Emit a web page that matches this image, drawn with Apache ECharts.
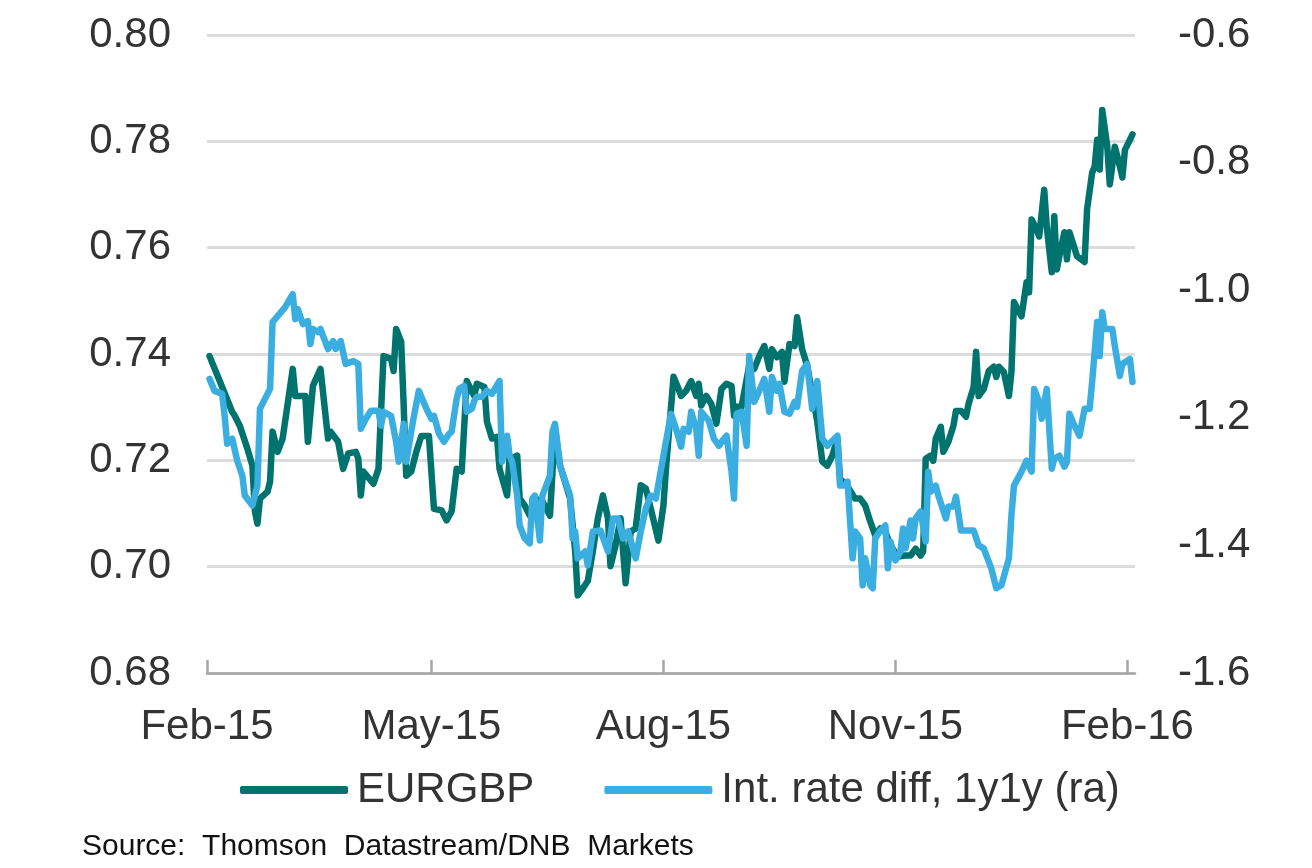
<!DOCTYPE html>
<html>
<head>
<meta charset="utf-8">
<script src="https://cdn.jsdelivr.net/npm/echarts@6/dist/echarts.min.js"></script>
<style>html,body{margin:0;padding:0;background:#fff;}#chart{width:1312px;height:868px;}</style>
</head>
<body>
<div id="chart"></div>
<script>
// x values: days since 2015-02-01
const tickDays = [0, 89, 181, 273, 365];
const tickLabels = ['Feb-15', 'May-15', 'Aug-15', 'Nov-15', 'Feb-16'];

const eurgbpDays = [1,6,10,11,13,16,18,19,20,21,24,25,26,28,30,34,35,39,40,42,45,48,49,52,54,56,59,60,61,62,66,68,70,73,74,75,77,78,79,81,83,85,88,90,93,95,97,99,101,103,104,106,107,110,111,113,115,116,119,120,121,123,124,126,128,130,133,136,138,140,144,146,147,149,151,153,155,157,159,160,162,164,166,168,170,172,174,176,179,181,182,185,187,188,190,192,194,195,196,198,200,202,204,206,208,209,210,212,215,217,219,221,223,224,226,228,229,231,233,234,236,238,240,242,244,246,248,250,251,254,257,259,261,263,265,267,269,271,274,277,279,281,283,284,285,287,288,289,291,292,294,296,297,299,301,302,304,305,306,308,310,312,313,314,316,318,319,320,322,323,325,326,327,329,330,332,333,335,336,337,338,340,341,342,345,348,349,351,352,353,354,355,357,358,360,362,363,364,366,367];
const eurgbpValues = [0.7396,0.7338,0.7291,0.7284,0.7265,0.7222,0.7190,0.7104,0.7081,0.7128,0.7141,0.7160,0.7254,0.7216,0.7241,0.7372,0.7321,0.7321,0.7235,0.7340,0.7372,0.7241,0.7254,0.7235,0.7184,0.7213,0.7216,0.7203,0.7134,0.7179,0.7156,0.7184,0.7396,0.7391,0.7368,0.7447,0.7423,0.7303,0.7171,0.7179,0.7216,0.7246,0.7246,0.7109,0.7106,0.7087,0.7104,0.7184,0.7179,0.7349,0.7340,0.7321,0.7344,0.7338,0.7273,0.7241,0.7244,0.7184,0.7134,0.7209,0.7203,0.7209,0.7128,0.7115,0.7096,0.7128,0.7123,0.7096,0.7259,0.7190,0.7128,0.7029,0.6946,0.6959,0.6973,0.7029,0.7091,0.7134,0.7091,0.7001,0.7040,0.7091,0.6969,0.7066,0.7072,0.7153,0.7147,0.7109,0.7049,0.7115,0.7184,0.7357,0.7334,0.7321,0.7331,0.7349,0.7321,0.7344,0.7303,0.7321,0.7306,0.7269,0.7334,0.7344,0.7340,0.7284,0.7301,0.7301,0.7378,0.7372,0.7396,0.7415,0.7372,0.7409,0.7394,0.7404,0.7348,0.7419,0.7415,0.7469,0.7409,0.7378,0.7325,0.7273,0.7198,0.7190,0.7209,0.7241,0.7166,0.7151,0.7128,0.7128,0.7115,0.7085,0.7059,0.7072,0.7066,0.7040,0.7019,0.7021,0.7021,0.7034,0.7021,0.7029,0.7203,0.7209,0.7199,0.7241,0.7263,0.7216,0.7235,0.7265,0.7293,0.7293,0.7282,0.7306,0.7338,0.7404,0.7321,0.7334,0.7368,0.7376,0.7357,0.7376,0.7366,0.7321,0.7366,0.7498,0.7479,0.7471,0.7535,0.7516,0.7653,0.7634,0.7621,0.7709,0.7640,0.7554,0.7659,0.7559,0.7584,0.7629,0.7578,0.7629,0.7584,0.7573,0.7672,0.7741,0.7753,0.7803,0.7747,0.7859,0.7790,0.7719,0.7790,0.7753,0.7732,0.7784,0.7803,0.7813];

const rateDays = [1,3,6,7,8,10,12,14,15,18,20,21,25,26,28,31,34,35,36,38,40,41,42,44,45,48,50,51,53,55,58,60,61,63,65,68,69,70,73,75,76,78,79,82,84,87,89,90,92,94,96,97,99,100,102,103,105,106,107,109,111,113,116,117,119,120,121,123,124,126,128,129,130,132,133,136,137,138,140,144,145,146,147,150,151,153,156,159,161,163,165,167,170,172,174,176,178,181,184,186,188,189,191,192,194,195,196,199,201,203,205,206,208,209,210,212,214,215,217,219,221,223,224,226,227,229,231,233,234,236,238,240,242,244,246,250,251,253,254,256,257,259,260,261,263,264,265,267,269,270,271,273,275,276,277,279,280,281,283,285,286,287,289,290,293,294,296,297,299,302,304,306,308,311,313,315,318,319,320,323,325,327,328,330,331,333,335,336,338,340,341,342,344,346,348,350,351,353,354,355,356,359,360,362,363,366,367];
const rateValues = [-1.1391,-1.1578,-1.1625,-1.1969,-1.2406,-1.2328,-1.2672,-1.2906,-1.3219,-1.3375,-1.3063,-1.1859,-1.1547,-1.0500,-1.0406,-1.0266,-1.0063,-1.0453,-1.0297,-1.0531,-1.0484,-1.0844,-1.0609,-1.0656,-1.0609,-1.0922,-1.0797,-1.0922,-1.0797,-1.1156,-1.1109,-1.1156,-1.2172,-1.2016,-1.1891,-1.1891,-1.2125,-1.1906,-1.1969,-1.2375,-1.2688,-1.2094,-1.2688,-1.1984,-1.1578,-1.1859,-1.2016,-1.1969,-1.2250,-1.2375,-1.2250,-1.2219,-1.1703,-1.1547,-1.1500,-1.1906,-1.1859,-1.1734,-1.1672,-1.1672,-1.1578,-1.1625,-1.1422,-1.2688,-1.2281,-1.2594,-1.2688,-1.3219,-1.3688,-1.3891,-1.3969,-1.3266,-1.3219,-1.3922,-1.3219,-1.2906,-1.2219,-1.2094,-1.2750,-1.3219,-1.3891,-1.3781,-1.4203,-1.4094,-1.4313,-1.3781,-1.3766,-1.4094,-1.3578,-1.3578,-1.3891,-1.3781,-1.4203,-1.3781,-1.3422,-1.3219,-1.3266,-1.2594,-1.1938,-1.2172,-1.2453,-1.2172,-1.2219,-1.1906,-1.2172,-1.2594,-1.1906,-1.2047,-1.2328,-1.2438,-1.2328,-1.2281,-1.2844,-1.3266,-1.1938,-1.1906,-1.2438,-1.1031,-1.1750,-1.1578,-1.1391,-1.1906,-1.1359,-1.1578,-1.1469,-1.1906,-1.1938,-1.1750,-1.1828,-1.1266,-1.1156,-1.1859,-1.1422,-1.2328,-1.2438,-1.2281,-1.3063,-1.3063,-1.3000,-1.4203,-1.3781,-1.3891,-1.4625,-1.4203,-1.4625,-1.4672,-1.3891,-1.3766,-1.3688,-1.4359,-1.3938,-1.4234,-1.4094,-1.3734,-1.4047,-1.3609,-1.3891,-1.3578,-1.3469,-1.3938,-1.2844,-1.3156,-1.3063,-1.3219,-1.3578,-1.3391,-1.3391,-1.3234,-1.3766,-1.3766,-1.3766,-1.4000,-1.4047,-1.4359,-1.4672,-1.4625,-1.4203,-1.3531,-1.3063,-1.2844,-1.2672,-1.2844,-1.1547,-1.1750,-1.2016,-1.1547,-1.2797,-1.2641,-1.2594,-1.2766,-1.2688,-1.1938,-1.2125,-1.2281,-1.1859,-1.1859,-1.1438,-1.0500,-1.1031,-1.0344,-1.0609,-1.0609,-1.0875,-1.1344,-1.1156,-1.1078,-1.1438];

const seriesNames = ['EURGBP', 'Int. rate diff, 1y1y (ra)'];
const sourceText = 'Source:  Thomson  Datastream/DNB  Markets';

const pair = (days, vals) => days.map((d, i) => [d, vals[i]]);
const FONT = '"Liberation Sans", Arial, sans-serif';
const TEAL = '#00736e';
const BLUE = '#3aaee0';

const chart = echarts.init(document.getElementById('chart'), null, {renderer: 'canvas'});
chart.setOption({
  animation: false,
  backgroundColor: '#ffffff',
  textStyle: {fontFamily: FONT},
  grid: {left: 207, right: 177, top: 35, bottom: 195},
  xAxis: {
    type: 'value', min: 0, max: 368,
    axisLine: {show: true, lineStyle: {color: '#a6a6a6', width: 2.5}},
    axisTick: {show: true, inside: true, length: 13, customValues: tickDays, lineStyle: {color: '#a6a6a6', width: 2.5}},
    axisLabel: {
      customValues: tickDays,
      formatter: v => { const i = tickDays.indexOf(Math.round(v)); return i >= 0 ? tickLabels[i] : ''; },
      fontSize: 42, color: '#333333', fontFamily: FONT, margin: 33
    },
    splitLine: {show: false}
  },
  yAxis: [
    {
      type: 'value', min: 0.68, max: 0.80, interval: 0.02, position: 'left',
      axisLine: {show: false}, axisTick: {show: false},
      axisLabel: {formatter: v => v.toFixed(2), fontSize: 42, color: '#333333', fontFamily: FONT, margin: 36},
      splitLine: {show: true, lineStyle: {color: '#dcdcdc', width: 3}}
    },
    {
      type: 'value', min: -1.6, max: -0.6, interval: 0.2, position: 'right',
      axisLine: {show: false}, axisTick: {show: false},
      axisLabel: {formatter: v => v.toFixed(1), fontSize: 42, color: '#333333', fontFamily: FONT, margin: 43},
      splitLine: {show: false}
    }
  ],
  legend: {
    left: 235, top: 764, itemGap: 70, itemWidth: 108, itemHeight: 8, icon: 'roundRect',
    textStyle: {fontSize: 42, color: '#333333', fontFamily: FONT, padding: [0, 0, 0, 4]},
    data: seriesNames
  },
  graphic: [{
    type: 'text', left: 82, top: 832,
    style: {text: sourceText, font: '30px "Liberation Sans", Arial, sans-serif', fill: '#111111'}
  }],
  series: [
    {
      name: seriesNames[0], type: 'line', yAxisIndex: 0, data: pair(eurgbpDays, eurgbpValues),
      showSymbol: false, symbol: 'none', color: TEAL,
      lineStyle: {color: TEAL, width: 6.5, join: 'round', cap: 'round'}
    },
    {
      name: seriesNames[1], type: 'line', yAxisIndex: 1, data: pair(rateDays, rateValues),
      showSymbol: false, symbol: 'none', color: BLUE,
      lineStyle: {color: BLUE, width: 6.5, join: 'round', cap: 'round'}
    }
  ]
});
</script>
</body>
</html>
